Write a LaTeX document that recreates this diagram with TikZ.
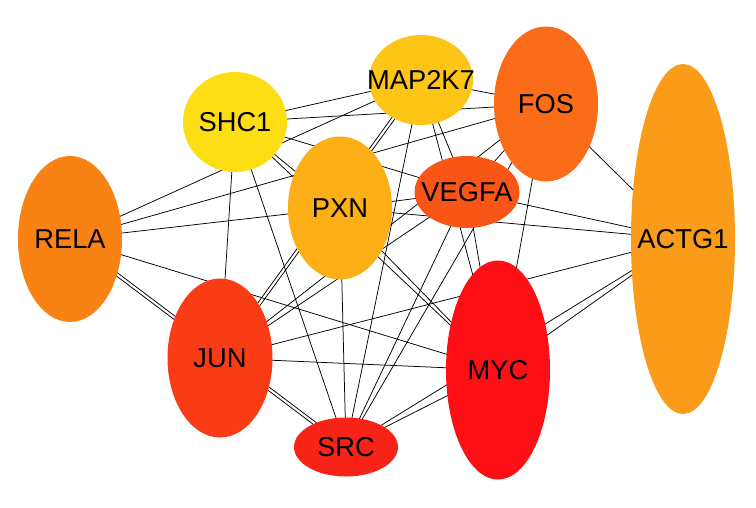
\documentclass[tikz,border=0pt]{standalone}
\usepackage{fontspec}
\setmainfont{Liberation Sans}
\usetikzlibrary{shapes.geometric,backgrounds,calc}
\definecolor{cRELA}{RGB}{248,130,20}
\definecolor{cSHC1}{RGB}{253,222,20}
\definecolor{cMAP}{RGB}{253,198,22}
\definecolor{cFOS}{RGB}{250,108,24}
\definecolor{cPXN}{RGB}{253,175,24}
\definecolor{cVEGFA}{RGB}{248,85,22}
\definecolor{cACTG}{RGB}{250,155,25}
\definecolor{cJUN}{RGB}{250,60,22}
\definecolor{cMYC}{RGB}{254,15,22}
\definecolor{cSRC}{RGB}{246,35,22}
\tikzset{
  gene/.style={ellipse, draw=none, inner sep=0pt},
  genetext/.style={font=\fontsize{27.3}{30}\selectfont, inner sep=0pt, text=black},
  link/.style={line width=0.75pt, draw=black}
}
\newcommand\edgeline[2]{\draw[link] (#1.center) -- (#2.center);}
\newcommand\edgedouble[2]{%
  \draw[link] ($(#1.center)!1.6pt!90:(#2.center)$) -- ($(#2.center)!1.6pt!-90:(#1.center)$);
  \draw[link] ($(#1.center)!1.6pt!-90:(#2.center)$) -- ($(#2.center)!1.6pt!90:(#1.center)$);}
\begin{document}
\begin{tikzpicture}[x=1pt,y=-1pt]
\useasboundingbox (0,0) rectangle (756,507);
% nodes
\node[gene, fill=cRELA, minimum width=104pt, minimum height=166pt] (RELA) at (70,239) {};
\node[gene, fill=cSHC1, minimum width=104pt, minimum height=100pt] (SHC1) at (235,122) {};
\node[gene, fill=cMAP, minimum width=104pt, minimum height=90pt] (MAP2K7) at (421,80) {};
\node[gene, fill=cFOS, minimum width=104pt, minimum height=155pt] (FOS) at (546,104) {};
\node[gene, fill=cPXN, minimum width=104pt, minimum height=143pt] (PXN) at (340,208) {};
\node[gene, fill=cVEGFA, minimum width=105pt, minimum height=72pt] (VEGFA) at (467,192) {};
\node[gene, fill=cACTG, minimum width=104pt, minimum height=350pt] (ACTG1) at (683,239) {};
\node[gene, fill=cJUN, minimum width=105pt, minimum height=159pt] (JUN) at (220,358) {};
\node[gene, fill=cMYC, minimum width=104pt, minimum height=219pt] (MYC) at (498,370) {};
\node[gene, fill=cSRC, minimum width=104pt, minimum height=59pt] (SRC) at (346,447) {};
% labels
\node[genetext] (tRELA) at (RELA) {RELA};
\node[genetext] (tSHC1) at (SHC1) {SHC1};
\node[genetext] (tMAP2K7) at (MAP2K7) {MAP2K7};
\node[genetext] (tFOS) at (FOS) {FOS};
\node[genetext] (tPXN) at (PXN) {PXN};
\node[genetext] (tVEGFA) at (VEGFA) {VEGFA};
\node[genetext] (tACTG1) at (ACTG1) {ACTG1};
\node[genetext] (tJUN) at (JUN) {JUN};
\node[genetext] (tMYC) at (MYC) {MYC};
\node[genetext] (tSRC) at (SRC) {SRC};
% edges
\begin{pgfonlayer}{background}
\fill[white] (0,0) rectangle (756,507);
\edgeline{RELA}{MAP2K7}
\edgeline{RELA}{FOS}
\edgeline{RELA}{PXN}
\edgeline{RELA}{MYC}
\edgedouble{RELA}{SRC}
\edgeline{SHC1}{MAP2K7}
\edgeline{SHC1}{FOS}
\edgeline{SHC1}{VEGFA}
\edgeline{SHC1}{PXN}
\edgeline{SHC1}{MYC}
\edgeline{SHC1}{JUN}
\edgeline{SHC1}{SRC}
\edgeline{MAP2K7}{FOS}
\edgedouble{MAP2K7}{JUN}
\edgeline{MAP2K7}{SRC}
\edgeline{MAP2K7}{VEGFA}
\edgeline{MAP2K7}{MYC}
\edgeline{FOS}{ACTG1}
\edgeline{FOS}{MYC}
\edgeline{FOS}{VEGFA}
\edgeline{FOS}{JUN}
\edgeline{FOS}{SRC}
\edgeline{PXN}{ACTG1}
\edgeline{PXN}{VEGFA}
\edgeline{PXN}{MYC}
\edgeline{PXN}{SRC}
\edgeline{VEGFA}{ACTG1}
\edgeline{VEGFA}{MYC}
\edgeline{VEGFA}{SRC}
\edgeline{VEGFA}{JUN}
\edgeline{JUN}{ACTG1}
\edgeline{JUN}{MYC}
\edgeline{MYC}{ACTG1}
\edgeline{ACTG1}{SRC}
\edgeline{MYC}{SRC}
\end{pgfonlayer}
\end{tikzpicture}
\end{document}
